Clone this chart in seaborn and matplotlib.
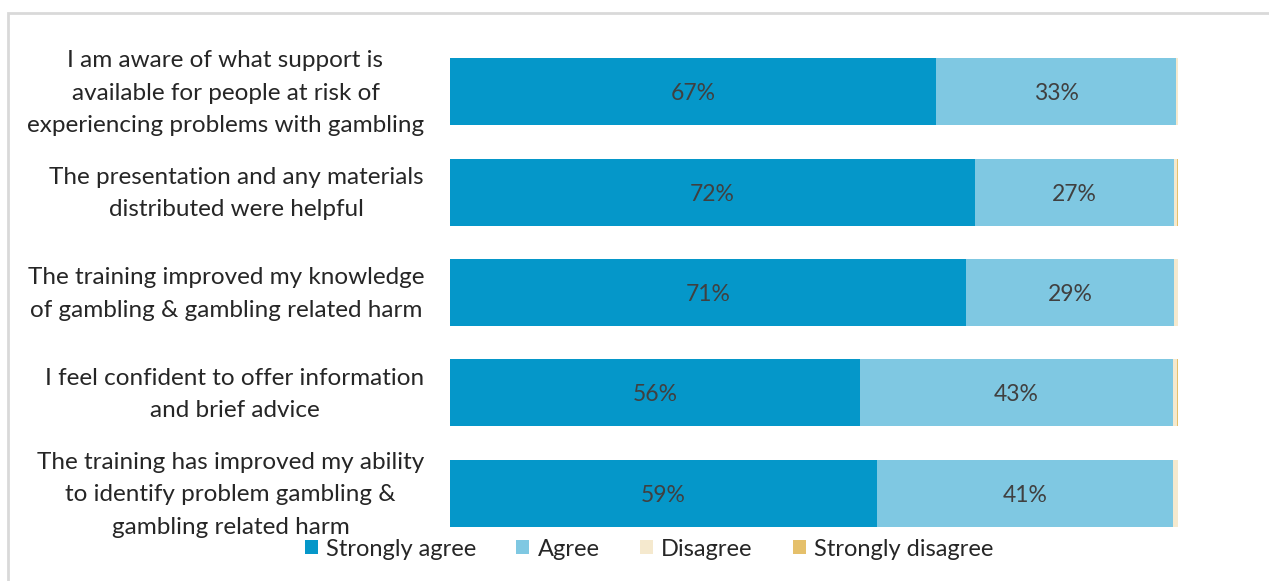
import matplotlib
matplotlib.use("Agg")
import matplotlib.pyplot as plt
import matplotlib.transforms as mtransforms
import seaborn as sns
import pandas as pd
import numpy as np
from matplotlib.patches import Patch, Rectangle

statements = [
    "I am aware of what support is\navailable for people at risk of\nexperiencing problems with gambling",
    "The presentation and any materials\ndistributed were helpful",
    "The training improved my knowledge\nof gambling & gambling related harm",
    "I feel confident to offer information\nand brief advice",
    "The training has improved my ability\nto identify problem gambling &\ngambling related harm",
]
series = ["Strongly agree", "Agree", "Disagree", "Strongly disagree"]
strongly_agree = [66.8, 72.1, 70.9, 56.3, 58.7]
agree = [32.9, 27.3, 28.6, 43.0, 40.6]
disagree = [0.3, 0.4, 0.5, 0.5, 0.7]
strongly_disagree = [0.0, 0.2, 0.0, 0.2, 0.0]
shown_labels = [["67%", "33%"], ["72%", "27%"], ["71%", "29%"], ["56%", "43%"], ["59%", "41%"]]
colors = ["#0597C9", "#7FC8E2", "#F5E9CE", "#E5C06B"]

sns.set_theme(style="white")
plt.rcParams["font.family"] = ["Lato", "DejaVu Sans"]

fig = plt.figure(figsize=(12.69, 5.81), dpi=100)
ax = fig.add_axes([450 / 1269, 1 - 543.5 / 581, 728 / 1269, (543.5 - 41.5) / 581])

df = pd.DataFrame({"statement": statements, "sa": strongly_agree, "a": agree,
                   "d": disagree, "sd": strongly_disagree})
cum = np.cumsum(df[["sa", "a", "d", "sd"]].values, axis=1)
order = [3, 2, 1, 0]
for i in order:
    tmp = pd.DataFrame({"statement": statements, "value": cum[:, i]})
    sns.barplot(data=tmp, x="value", y="statement", orient="h", color=colors[i],
                saturation=1, width=0.667, ax=ax, edgecolor="none", linewidth=0)

down = mtransforms.ScaledTranslation(0, -2 / 100, fig.dpi_scale_trans)
for r in range(len(statements)):
    starts = [0, cum[r, 0]]
    widths = [strongly_agree[r], agree[r]]
    for k in range(2):
        ax.text(starts[k] + widths[k] / 2, r, shown_labels[r][k], ha="center", va="center",
                fontsize=16.5, color="#404040", transform=ax.transData + down)

ax.set_xlim(0, 100)
ax.set_ylim(4.5, -0.5)
ax.set_xlabel("")
ax.set_ylabel("")
ax.set_xticks([])
ax.set_yticks(range(len(statements)))
ax.set_yticklabels([])
for s in ax.spines.values():
    s.set_visible(False)
ax.tick_params(axis="y", length=0)

lab_tr = ax.get_yaxis_transform() + mtransforms.ScaledTranslation(-26 / 100, -1.5 / 100, fig.dpi_scale_trans)
for r, txt in enumerate(statements):
    ax.text(0, r, txt, transform=lab_tr, ha="right", va="center", multialignment="center",
            fontsize=17.5, color="#262626", linespacing=1.68)

handles = [Patch(facecolor=c, edgecolor="none") for c in colors]
fig.legend(handles, series, loc="center", bbox_to_anchor=(649 / 1269, 1 - 549 / 581),
           ncol=4, frameon=False, fontsize=17, handlelength=0.55, handleheight=0.55,
           handletextpad=0.35, columnspacing=1.7, labelcolor="#262626")

fig.patches.append(Rectangle((8 / 1269, -0.1), 1.2, 1 - 13 / 581 + 0.1, transform=fig.transFigure,
                             fill=False, edgecolor="#D9D9D9", linewidth=2, zorder=0))

fig.savefig("out.png", dpi=100)
